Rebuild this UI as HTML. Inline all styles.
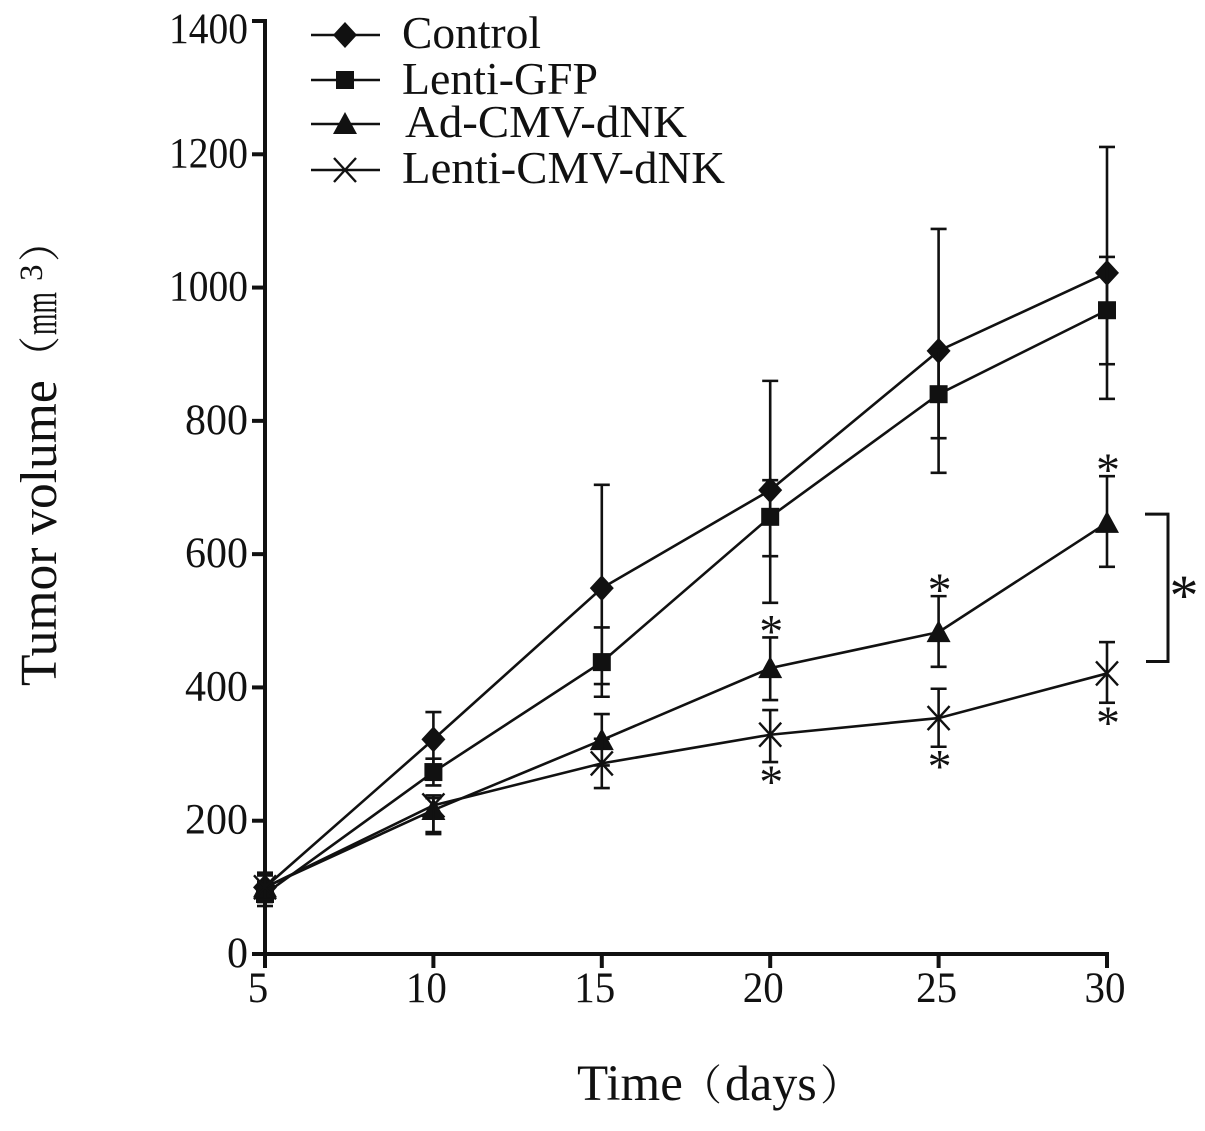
<!DOCTYPE html>
<html>
<head>
<meta charset="utf-8">
<title>Tumor volume chart</title>
<style>
html,body{margin:0;padding:0;background:#fff;}
svg{display:block;}
text{font-family:"Liberation Serif","Noto Serif CJK SC",serif;fill:#111;}
</style>
</head>
<body>
<svg id="chart" xmlns="http://www.w3.org/2000/svg" width="1205" height="1131" viewBox="0 0 1205 1131">
<rect width="1205" height="1131" fill="#fff"/>
<text transform="translate(56,686) rotate(-90)" font-size="51.5">Tumor volume</text>
<text transform="translate(55,378) rotate(-90)" font-size="42">（</text>
<text transform="translate(56,335) rotate(-90)" font-size="48" textLength="43" lengthAdjust="spacingAndGlyphs">mm</text>
<text transform="translate(42,281) rotate(-90)" font-size="33">3</text>
<text transform="translate(55,262) rotate(-90)" font-size="42">）</text>
<text x="577" y="1100" font-size="51">Time</text>
<text x="680" y="1100" font-size="42">（</text>
<text x="725" y="1100" font-size="50">days</text>
<text x="820" y="1100" font-size="42">）</text>
<g id="plot"></g>
</svg>
<script>
const days = [5, 10, 15, 20, 25, 30];
const xTicks = [5, 10, 15, 20, 25, 30];
const yTicks = [0, 200, 400, 600, 800, 1000, 1200, 1400];

const controlValues = [100, 322, 549, 696, 905, 1022];
const controlHigh = [122, 363, 704, 860, 1088, 1211];
const controlLow = [78, 281, 405, 527, 722, 833];

const gfpValues = [90, 273, 438, 656, 840, 966];
const gfpHigh = [108, 293, 490, 711, 906, 1046];
const gfpLow = [72, 253, 386, 597, 774, 885];

const adValues = [100, 216, 321, 429, 483, 647];
const adHigh = [118, 238, 360, 475, 537, 717];
const adLow = [82, 183, 283, 381, 431, 581];

const lentiValues = [100, 223, 286, 329, 354, 421];
const lentiHigh = [118, 234, 323, 366, 398, 468];
const lentiLow = [82, 180, 249, 288, 311, 377];

const adStarDays = [20, 25, 30];
const lentiStarDays = [20, 25, 30];
const bracketRange = [660, 439];

const legendLabels = ['Control', 'Lenti-GFP', 'Ad-CMV-dNK', 'Lenti-CMV-dNK'];

function xScale(d) { return 265 + (d - 5) * (1107 - 265) / 25; }
function yScale(v) { return 954 - v * (954 - 21) / 1400; }

const NS = 'http://www.w3.org/2000/svg';
const plot = document.getElementById('plot');
const INK = '#111';

function make(tag, attrs) {
  const el = document.createElementNS(NS, tag);
  for (const k in attrs) el.setAttribute(k, attrs[k]);
  plot.appendChild(el);
  return el;
}
function strokeLine(x1, y1, x2, y2, w) {
  return make('line', { x1: x1, y1: y1, x2: x2, y2: y2, stroke: INK, 'stroke-width': w });
}
function marker(kind, x, y) {
  let el;
  if (kind === 0) {
    el = make('polygon', { points: [x, y - 13, x + 12, y, x, y + 13, x - 12, y].join(' '), fill: INK });
  } else if (kind === 1) {
    el = make('rect', { x: x - 9, y: y - 9, width: 18, height: 18, fill: INK });
  } else if (kind === 2) {
    el = make('polygon', { points: [x, y - 12, x + 12, y + 10, x - 12, y + 10].join(' '), fill: INK });
  } else {
    el = make('path', { d: 'M' + (x - 11) + ' ' + (y - 12) + 'L' + (x + 11) + ' ' + (y + 12) + 'M' + (x + 11) + ' ' + (y - 12) + 'L' + (x - 11) + ' ' + (y + 12), stroke: INK, 'stroke-width': 2.4, fill: 'none' });
  }
  return el;
}

/* axes */
const yAxis = strokeLine(xScale(5), yScale(1400) - 2, xScale(5), yScale(0) + 14, 4);


const xAxis = strokeLine(252, yScale(0), xScale(30) + 2, yScale(0), 4);



yTicks.forEach(function (t) {
  const tick = strokeLine(252, yScale(t), xScale(5), yScale(t), 4);
  
  
  const digits = String(t).length;
  const label = make('text', { x: 248, y: yScale(t) + (t === 1400 ? 22 : 13), 'font-size': 43, 'text-anchor': 'end', textLength: digits === 4 ? 79 : digits * 21, lengthAdjust: 'spacingAndGlyphs' });
  label.textContent = String(t);
  
  
});
xTicks.forEach(function (t) {
  const tick = strokeLine(xScale(t), yScale(0), xScale(t), yScale(0) + 14, 4);
  
  
  const label = make('text', { x: xScale(t) - (t === 30 ? 2 : t === 25 ? 2 : 7), y: 1002, 'font-size': 43, 'text-anchor': 'middle', textLength: String(t).length * 20.5, lengthAdjust: 'spacingAndGlyphs' });
  label.textContent = String(t);
  
  
});

/* series */
const seriesValues = [controlValues, gfpValues, adValues, lentiValues];
const seriesHigh = [controlHigh, gfpHigh, adHigh, lentiHigh];
const seriesLow = [controlLow, gfpLow, adLow, lentiLow];
const seriesNames = ['control', 'lenti-gfp', 'ad-cmv-dnk', 'lenti-cmv-dnk'];

seriesValues.forEach(function (vals, s) {
  const name = seriesNames[s];
  days.forEach(function (d, i) {
    const x = xScale(d);
    const stem = strokeLine(x, yScale(seriesHigh[s][i]), x, yScale(seriesLow[s][i]), 2.6);
    
    
    const capHigh = strokeLine(x - 8, yScale(seriesHigh[s][i]), x + 8, yScale(seriesHigh[s][i]), 2.6);
    
    
    const capLow = strokeLine(x - 8, yScale(seriesLow[s][i]), x + 8, yScale(seriesLow[s][i]), 2.6);
    
    
  });
  const line = make('polyline', {
    points: days.map(function (d, i) { return xScale(d) + ',' + yScale(vals[i]); }).join(' '),
    fill: 'none', stroke: INK, 'stroke-width': 2.6
  });
  
  
  days.forEach(function (d, i) {
    const m = marker(s, xScale(d), yScale(vals[i]));
    
    
  });
});

/* significance stars */
adStarDays.forEach(function (d) {
  const i = days.indexOf(d);
  const star = make('text', { x: xScale(d) + 1, y: yScale(adHigh[i]) + 10, 'font-size': 48, 'text-anchor': 'middle' });
  star.textContent = '*';
  
  
});
lentiStarDays.forEach(function (d) {
  const i = days.indexOf(d);
  const star = make('text', { x: xScale(d) + 1, y: yScale(lentiLow[i]) + 36, 'font-size': 48, 'text-anchor': 'middle' });
  star.textContent = '*';
  
  
});

/* bracket */
const bracket = make('path', {
  d: 'M1145 ' + yScale(bracketRange[0]) + 'H1168V' + yScale(bracketRange[1]) + 'H1146',
  fill: 'none', stroke: INK, 'stroke-width': 3
});


const bracketStar = make('text', { x: 1184, y: 615, 'font-size': 58, 'text-anchor': 'middle' });
bracketStar.textContent = '*';



/* legend */
const legendY = [35, 80, 124, 170];
const legendTextOffset = [13, 14, 13, 13];
const legendTextWidth = [139, 196, 282, 323];
legendLabels.forEach(function (lab, i) {
  const y = legendY[i];
  const ll = strokeLine(311, y, 380, y, 2.6);
  
  
  const lm = marker(i, 345, y);
  
  
  const lt = make('text', { x: i === 2 ? 405 : 402, y: y + legendTextOffset[i], 'font-size': 46, textLength: legendTextWidth[i], lengthAdjust: 'spacingAndGlyphs' });
  lt.textContent = lab;
  
  
});
</script>
</body>
</html>
